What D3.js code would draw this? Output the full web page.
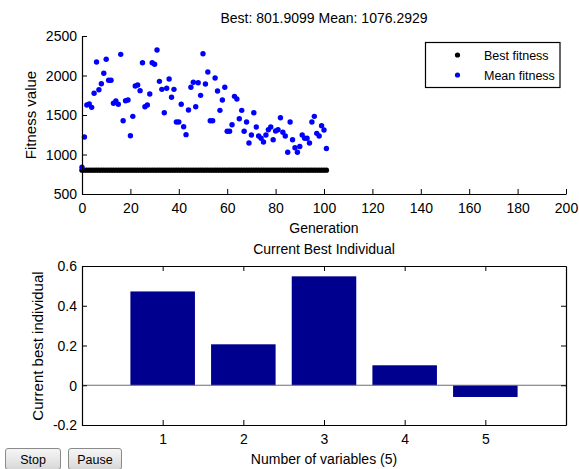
<!DOCTYPE html>
<html>
<head>
<meta charset="utf-8">
<script src="https://cdn.jsdelivr.net/npm/d3@7"></script>
<style>
  html, body { margin: 0; padding: 0; background: #ffffff; }
  svg { display: block; font-family: "Liberation Sans", Arial, Helvetica, sans-serif; }
</style>
</head>
<body>
<svg id="chart" width="579" height="469"></svg>
<script>
// ---------- data ----------
const meanFitness = [
  838, 1221, 1627, 1639, 1597, 1775, 2171, 1820, 1896, 2028,
  2205, 1939, 1939, 1648, 1677, 1636, 2268, 1428, 1681, 1690,
  1238, 1483, 1867, 1880, 1808, 2162, 1605, 1627, 1766, 2162,
  2142, 2323, 1926, 1825, 1529, 1838, 1956, 1724, 1825, 1411,
  1411, 1636, 1352, 1251, 1563, 1851, 1914, 1605, 1909, 1749,
  2276, 1892, 2044, 1428, 1428, 1968, 1804, 1559, 1690, 1851,
  1294, 1294, 1377, 1736, 1703, 1453, 1559, 1294, 1411, 1146,
  1247, 1529, 1348, 1234, 1205, 1158, 1247, 1314, 1348, 1187,
  1297, 1314, 1466, 1281, 1234, 1028, 1411, 1187, 1086, 1028,
  1101, 1247, 1205, 1205, 1146, 1411, 1483, 1268, 1234, 1365,
  1310, 1076.2929
];
const bestFitness = [
  801.9099, 801.9099, 801.9099, 801.9099, 801.9099, 801.9099, 801.9099, 801.9099, 801.9099, 801.9099,
  801.9099, 801.9099, 801.9099, 801.9099, 801.9099, 801.9099, 801.9099, 801.9099, 801.9099, 801.9099,
  801.9099, 801.9099, 801.9099, 801.9099, 801.9099, 801.9099, 801.9099, 801.9099, 801.9099, 801.9099,
  801.9099, 801.9099, 801.9099, 801.9099, 801.9099, 801.9099, 801.9099, 801.9099, 801.9099, 801.9099,
  801.9099, 801.9099, 801.9099, 801.9099, 801.9099, 801.9099, 801.9099, 801.9099, 801.9099, 801.9099,
  801.9099, 801.9099, 801.9099, 801.9099, 801.9099, 801.9099, 801.9099, 801.9099, 801.9099, 801.9099,
  801.9099, 801.9099, 801.9099, 801.9099, 801.9099, 801.9099, 801.9099, 801.9099, 801.9099, 801.9099,
  801.9099, 801.9099, 801.9099, 801.9099, 801.9099, 801.9099, 801.9099, 801.9099, 801.9099, 801.9099,
  801.9099, 801.9099, 801.9099, 801.9099, 801.9099, 801.9099, 801.9099, 801.9099, 801.9099, 801.9099,
  801.9099, 801.9099, 801.9099, 801.9099, 801.9099, 801.9099, 801.9099, 801.9099, 801.9099, 801.9099,
  801.9099, 801.9099
];
const topTitle = "Best: 801.9099 Mean: 1076.2929";
const topXTicks = [0, 20, 40, 60, 80, 100, 120, 140, 160, 180, 200];
const topYTicks = [500, 1000, 1500, 2000, 2500];
const legendLabels = ["Best fitness", "Mean fitness"];

const variables = [1, 2, 3, 4, 5];
const bestIndividual = [0.472, 0.206, 0.548, 0.1005, -0.059];
const botYTicks = [-0.2, 0, 0.2, 0.4, 0.6];
const botYTickLabels = ["-0.2", "0", "0.2", "0.4", "0.6"];
const botTitle = "Current Best Individual";
const buttonLabels = ["Stop", "Pause"];

// ---------- drawing ----------
const svg = d3.select("#chart");
const FONT = 14;

// ===== Top plot =====
const tx = d3.scaleLinear().domain([0, 200]).range([82, 566]);
const ty = d3.scaleLinear().domain([500, 2500]).range([194, 36]);

const gTop = svg.append("g");

// points: best first, then mean
gTop.append("g").selectAll("circle").data(bestFitness).join("circle")
  .attr("cx", (d, i) => tx(i)).attr("cy", d => ty(d)).attr("r", 2.7).attr("fill", "#000000");
gTop.append("g").selectAll("circle").data(meanFitness).join("circle")
  .attr("cx", (d, i) => tx(i)).attr("cy", d => ty(d)).attr("r", 2.7).attr("fill", "#0000ff");

// axes (MATLAB style: ticks inside)
const xAxisTop = d3.axisBottom(tx).tickValues(topXTicks).tickFormat(d3.format("d"))
  .tickSizeInner(-5).tickSizeOuter(0).tickPadding(9);
const yAxisTop = d3.axisLeft(ty).tickValues(topYTicks).tickFormat(d3.format("d"))
  .tickSizeInner(-5).tickSizeOuter(0).tickPadding(5);
const gx = gTop.append("g").attr("transform", "translate(0,194)").call(xAxisTop);
const gy = gTop.append("g").attr("transform", "translate(82,0)").call(yAxisTop);
[gx, gy].forEach(g => {
  g.select(".domain").attr("stroke", "#000").attr("stroke-width", 1.2);
  g.selectAll(".tick line").attr("stroke", "#000");
  g.selectAll(".tick text").attr("font-size", FONT).attr("fill", "#000")
    .attr("font-family", "Liberation Sans, Arial, sans-serif");
});
gx.selectAll(".tick text").attr("dy", "0.71em");
gy.selectAll(".tick text").attr("dy", "0.35em");

gTop.append("text").attr("x", 324).attr("y", 23).attr("text-anchor", "middle")
  .attr("font-size", FONT).text(topTitle);
gTop.append("text").attr("x", 324).attr("y", 233).attr("text-anchor", "middle")
  .attr("font-size", FONT).text("Generation");
gTop.append("text").attr("transform", "translate(36,115) rotate(-90)").attr("text-anchor", "middle")
  .attr("font-size", 15).text("Fitness value");

// legend
const lg = gTop.append("g");
lg.append("rect").attr("x", 425.5).attr("y", 42.5).attr("width", 134.5).attr("height", 45)
  .attr("fill", "#fff").attr("stroke", "#000").attr("stroke-width", 1.2);
const legendColors = ["#000000", "#0000ff"];
legendLabels.forEach((lab, i) => {
  lg.append("circle").attr("cx", 457.5).attr("cy", 55 + i * 20).attr("r", 2.6).attr("fill", legendColors[i]);
  lg.append("text").attr("x", 484).attr("y", 60 + i * 20).attr("font-size", 12.5).text(lab);
});

// ===== Bottom plot =====
const bx = d3.scaleLinear().domain([0, 6]).range([82, 566]);
const by = d3.scaleLinear().domain([-0.2, 0.6]).range([425, 266]);
const gBot = svg.append("g");
const barW = bx(0.8) - bx(0);

gBot.append("g").selectAll("rect").data(bestIndividual).join("rect")
  .attr("x", (d, i) => bx(variables[i]) - barW / 2)
  .attr("width", barW)
  .attr("y", d => by(Math.max(0, d)))
  .attr("height", d => Math.abs(by(d) - by(0)))
  .attr("fill", "#00008f");

// zero baseline
gBot.append("line").attr("x1", bx(0)).attr("x2", bx(6)).attr("y1", by(0)).attr("y2", by(0))
  .attr("stroke", "#6e6e6e").attr("stroke-width", 1.2);

const xAxisB = d3.axisBottom(bx).tickValues(variables).tickFormat(d3.format("d"))
  .tickSizeInner(-5).tickSizeOuter(0).tickPadding(9);
const xAxisBT = d3.axisTop(bx).tickValues(variables).tickSizeInner(-5).tickSizeOuter(0).tickFormat("");
const yAxisB = d3.axisLeft(by).tickValues(botYTicks).tickSizeInner(-5).tickSizeOuter(0).tickPadding(5)
  .tickFormat((d, i) => botYTickLabels[i]);
const yAxisBR = d3.axisRight(by).tickValues(botYTicks).tickSizeInner(-5).tickSizeOuter(0).tickFormat("");
const gbx = gBot.append("g").attr("transform", "translate(0,425)").call(xAxisB);
const gbxt = gBot.append("g").attr("transform", "translate(0,266)").call(xAxisBT);
const gby = gBot.append("g").attr("transform", "translate(82,0)").call(yAxisB);
const gbyr = gBot.append("g").attr("transform", "translate(566,0)").call(yAxisBR);
[gbx, gbxt, gby, gbyr].forEach(g => {
  g.select(".domain").attr("stroke", "#000").attr("stroke-width", 1.2);
  g.selectAll(".tick line").attr("stroke", "#000");
  g.selectAll(".tick text").attr("font-size", FONT).attr("fill", "#000")
    .attr("font-family", "Liberation Sans, Arial, sans-serif");
});
gbx.selectAll(".tick text").attr("dy", "0.71em");
gby.selectAll(".tick text").attr("dy", "0.35em");

gBot.append("text").attr("x", 324).attr("y", 254).attr("text-anchor", "middle")
  .attr("font-size", FONT).text(botTitle);
gBot.append("text").attr("x", 324).attr("y", 464).attr("text-anchor", "middle")
  .attr("font-size", FONT).text("Number of variables (5)");
gBot.append("text").attr("transform", "translate(43,346) rotate(-90)").attr("text-anchor", "middle")
  .attr("font-size", 15).text("Current best individual");

// ===== Buttons =====
const defs = svg.append("defs");
const grad = defs.append("linearGradient").attr("id", "btnGrad").attr("x1", 0).attr("y1", 0).attr("x2", 0).attr("y2", 1);
grad.append("stop").attr("offset", "0%").attr("stop-color", "#f6f6f6");
grad.append("stop").attr("offset", "50%").attr("stop-color", "#e8e8e8");
grad.append("stop").attr("offset", "100%").attr("stop-color", "#d6d6d6");
const btnX = [5, 68];
const btnW = [55, 53];
buttonLabels.forEach((lab, i) => {
  const g = svg.append("g");
  g.append("rect").attr("x", btnX[i] + 0.5).attr("y", 448.5).attr("width", btnW[i]).attr("height", 21)
    .attr("rx", 2.5).attr("fill", "url(#btnGrad)").attr("stroke", "#8a8a8a");
  g.append("text").attr("x", btnX[i] + btnW[i] / 2 + 0.5).attr("y", 464).attr("text-anchor", "middle")
    .attr("font-size", 12.5).attr("fill", "#000").text(lab);
});
</script>
</body>
</html>
